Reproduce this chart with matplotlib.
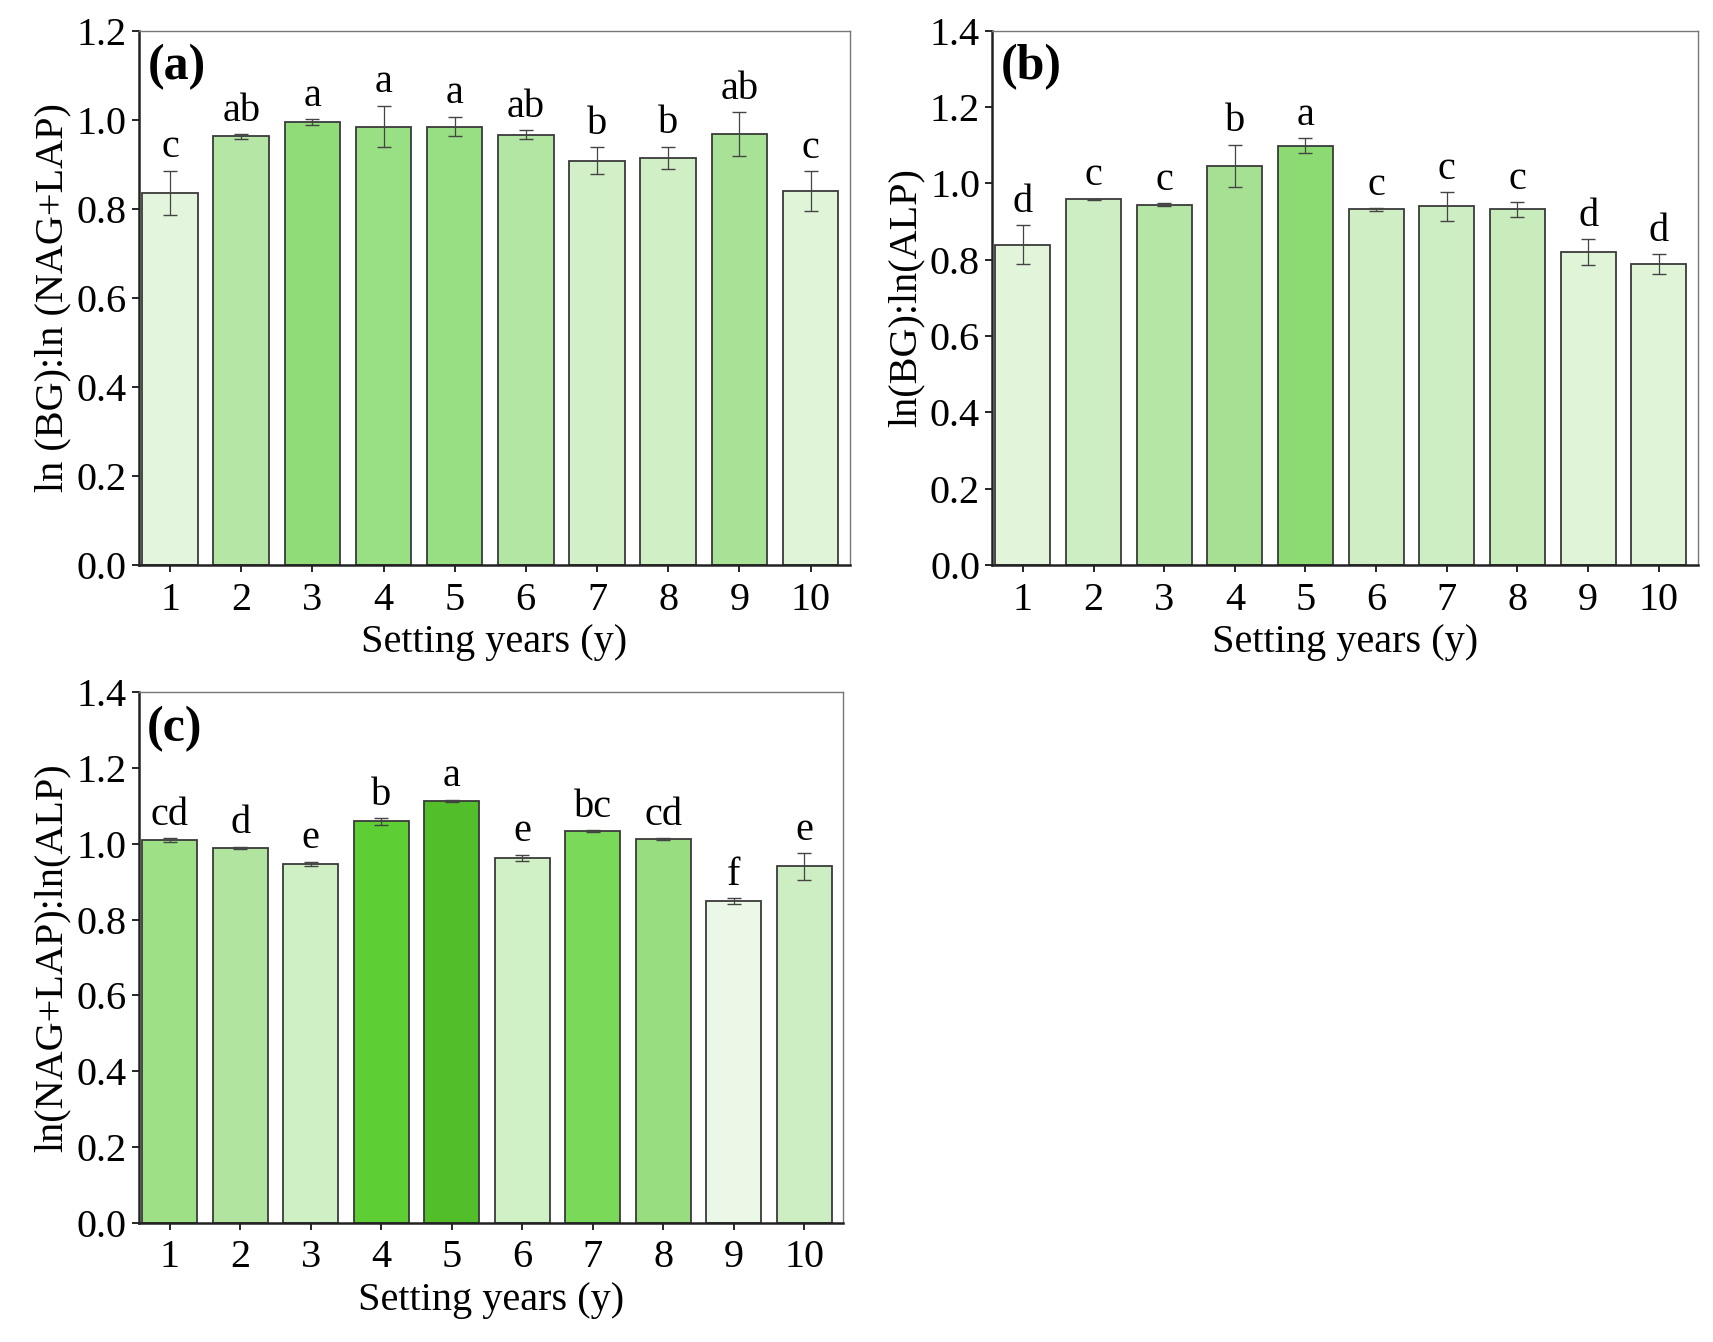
import numpy as np
import matplotlib
matplotlib.use("Agg")
import matplotlib.pyplot as plt

plt.rcParams['font.family'] = ['Liberation Serif', 'DejaVu Serif']
plt.rcParams['mathtext.fontset'] = 'stix'

years = np.arange(1, 11)

# (a) ln(BG):ln(NAG+LAP)
a_vals = [0.836, 0.963, 0.995, 0.985, 0.985, 0.967, 0.908, 0.915, 0.968, 0.840]
a_err = [0.050, 0.005, 0.007, 0.047, 0.022, 0.010, 0.030, 0.025, 0.050, 0.045]
a_lab = ['c', 'ab', 'a', 'a', 'a', 'ab', 'b', 'b', 'ab', 'c']
a_col = ['#e3f5dc', '#b5e6a6', '#8fdc78', '#99df84', '#98de82',
         '#b2e6a2', '#d2f0c8', '#d0efc5', '#a8e296', '#e0f4d8']

# (b) ln(BG):ln(ALP)
b_vals = [0.840, 0.958, 0.944, 1.047, 1.099, 0.932, 0.940, 0.932, 0.820, 0.789]
b_err = [0.050, 0.002, 0.004, 0.055, 0.020, 0.003, 0.038, 0.020, 0.035, 0.025]
b_lab = ['d', 'c', 'c', 'b', 'a', 'c', 'c', 'c', 'd', 'd']
b_col = ['#e2f5da', '#cdeec2', '#b5e6a5', '#a6e193', '#8cdb72',
         '#cfeec4', '#cdeec2', '#c8ecbc', '#e0f4d8', '#e0f4d8']

# (c) ln(NAG+LAP):ln(ALP)
c_vals = [1.010, 0.990, 0.947, 1.060, 1.114, 0.964, 1.034, 1.013, 0.849, 0.941]
c_err = [0.006, 0.003, 0.006, 0.009, 0.003, 0.008, 0.003, 0.003, 0.008, 0.035]
c_lab = ['cd', 'd', 'e', 'b', 'a', 'e', 'bc', 'cd', 'f', 'e']
c_col = ['#9de086', '#b0e49f', '#cff0c5', '#5dcf35', '#52bf2a',
         '#d0f0c6', '#7bd95a', '#98de80', '#ecf8e7', '#cdeec2']

FS = 29


def panel(ax, vals, err, labs, cols, ylab, tag, ymax):
    ax.bar(years, vals, width=0.78, color=cols, edgecolor='#3a3a3a',
           linewidth=1.3, zorder=2)
    ax.errorbar(years, vals, yerr=err, fmt='none', ecolor='#444444',
                elinewidth=0.9, capsize=5, capthick=1.0, zorder=3)
    for x, v, e, t in zip(years, vals, err, labs):
        ax.text(x, v + e + 0.008 * ymax, t, ha='center', va='bottom',
                fontsize=FS)
    ax.set_xlim(0.56, 10.55)
    ax.set_ylim(0, ymax)
    ax.set_xticks(years)
    ax.set_yticks(np.arange(0, ymax + 0.01, 0.2))
    ax.yaxis.set_major_formatter(matplotlib.ticker.FormatStrFormatter('%.1f'))
    ax.tick_params(labelsize=FS, direction='out', length=5, width=1.2)
    ax.tick_params(axis='x', pad=7)
    ax.set_xlabel('Setting years (y)', fontsize=FS, labelpad=4)
    ax.set_ylabel(ylab, fontsize=FS, labelpad=4)
    for s in ['left', 'bottom']:
        ax.spines[s].set_linewidth(1.8)
        ax.spines[s].set_color('#222222')
    for s in ['top', 'right']:
        ax.spines[s].set_linewidth(1.0)
        ax.spines[s].set_color('#777777')
    ax.text(0.012, 0.975, tag, transform=ax.transAxes, ha='left', va='top',
            fontsize=36, fontweight='bold')


fig = plt.figure(figsize=(17.13, 13.42), dpi=100)
ax_a = fig.add_axes([0.081, 0.579, 0.415, 0.398])
ax_b = fig.add_axes([0.579, 0.579, 0.412, 0.398])
ax_c = fig.add_axes([0.081, 0.089, 0.411, 0.395])

panel(ax_a, a_vals, a_err, a_lab, a_col, 'ln (BG):ln (NAG+LAP)', '(a)', 1.2)
panel(ax_b, b_vals, b_err, b_lab, b_col, 'ln(BG):ln(ALP)', '(b)', 1.4)
panel(ax_c, c_vals, c_err, c_lab, c_col, 'ln(NAG+LAP):ln(ALP)', '(c)', 1.4)

fig.savefig('out.png', dpi=100)
